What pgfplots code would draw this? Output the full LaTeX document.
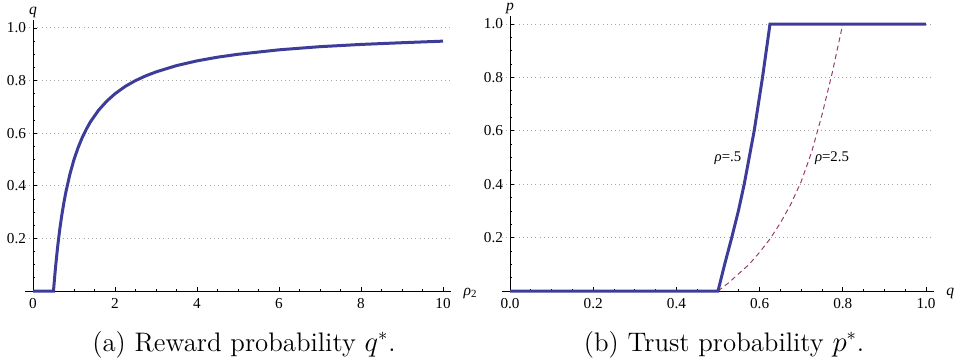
\documentclass[border=0pt]{standalone}
\usepackage{pgfplots}
\pgfplotsset{compat=1.18}
\usepackage{fontspec}
\newfontfamily\tfont{Liberation Serif}
\definecolor{mblue}{RGB}{61,61,153}
\definecolor{mpurple}{RGB}{153,61,113}
\begin{document}
\begin{tikzpicture}
\useasboundingbox (0,0) rectangle (477.5pt,180pt);
\pgfplotsset{
  mstyle/.style={
    scale only axis,
    axis lines=middle,
    axis line style={-, line width=0.5pt, black},
    anchor=south west,
    tick align=inside,
    hide obscured x ticks=false,
    major tick length=2.2pt,
    minor tick length=1.2pt,
    tick style={black, line width=0.4pt},
    ymin=0, ymax=1.03,
    ytick={0.2,0.4,0.6,0.8,1.0},
    yticklabels={0.2,0.4,0.6,0.8,1.0},
    minor ytick={0.05,0.1,0.15,0.25,0.3,0.35,0.45,0.5,0.55,0.65,0.7,0.75,0.85,0.9,0.95},
    ymajorgrids,
    grid style={gray!70, line width=0.5pt, dash pattern=on 0.5pt off 1.6pt},
    ticklabel style={font=\tfont\fontsize{7.6}{9}\selectfont},
    label style={font=\tfont\itshape\fontsize{7.8}{9}\selectfont},
    xlabel style={at={(axis description cs:1,0)}, anchor=base west, inner sep=0pt, xshift=6pt, yshift=-2pt},
    ylabel style={at={(axis description cs:0.0192,1)}, anchor=base, inner sep=0pt, yshift=3pt},
    clip=false,
  }
}
% Left panel
\begin{axis}[mstyle,
  at={(12.4pt,34.5pt)},
  width=213.2pt, height=135.45pt,
  xmin=-0.2, xmax=10.2,
  xtick={0,2,4,6,8,10},
  xticklabels={0,2,4,6,8,10},
  minor xtick={0.5,1,1.5,2.5,3,3.5,4.5,5,5.5,6.5,7,7.5,8.5,9,9.5},
  xlabel={ρ\textsubscript{\upshape 2}},
  ylabel={q},
]
\addplot[mblue, line width=1.5pt] coordinates {
 (0,0) (0.5,0) (0.51,0.02) (0.52,0.038) (0.55,0.091) (0.6,0.167) (0.65,0.231) (0.7,0.286)
 (0.75,0.333) (0.8,0.375) (0.9,0.444) (1,0.5) (1.1,0.545) (1.2,0.583) (1.3,0.615)
 (1.4,0.643) (1.6,0.6875) (1.8,0.722) (2,0.75) (2.25,0.778) (2.5,0.8) (2.75,0.818)
 (3,0.833) (3.5,0.857) (4,0.875) (4.5,0.889) (5,0.9) (6,0.917) (7,0.929) (8,0.9375)
 (9,0.944) (10,0.95)
};
\end{axis}
% Right panel
\begin{axis}[mstyle,
  at={(250.85pt,34.5pt)},
  width=216.1pt, height=137.5pt,
  xmin=-0.02, xmax=1.019,
  xtick={0,0.2,0.4,0.6,0.8,1.0},
  xticklabels={0.0,0.2,0.4,0.6,0.8,1.0},
  minor xtick={0.05,0.1,0.15,0.25,0.3,0.35,0.45,0.5,0.55,0.65,0.7,0.75,0.85,0.9,0.95},
  xlabel={q},
  ylabel={p},
]
\addplot[mpurple, line width=0.5pt, dash pattern=on 2.5pt off 1.8pt] coordinates {
 (0.5,0) (0.525,0.03) (0.55,0.065) (0.575,0.1) (0.6,0.145) (0.625,0.195) (0.65,0.255)
 (0.675,0.325) (0.7,0.41) (0.725,0.52) (0.75,0.66) (0.775,0.82) (0.8,1.0)
};
\addplot[mblue, line width=1.5pt] coordinates {
 (0,0) (0.5,0) (0.516,0.1) (0.533,0.2) (0.549,0.3) (0.563,0.4) (0.575,0.5) (0.587,0.6)
 (0.597,0.7) (0.607,0.8) (0.616,0.9) (0.625,1) (1,1)
};
\node[font=\tfont\fontsize{7.4}{9}\selectfont, inner sep=0pt] at (axis cs:0.524,0.498) {{\itshape ρ}=.5};
\node[font=\tfont\fontsize{7.4}{9}\selectfont, inner sep=0pt] at (axis cs:0.774,0.498) {{\itshape ρ}=2.5};
\end{axis}
\node[anchor=base, font=\fontsize{13.4}{16}\selectfont, inner sep=0pt] at (122pt,4.5pt) {(a) Reward probability $q^{*}$.};
\node[anchor=base, font=\fontsize{13.4}{16}\selectfont, inner sep=0pt] at (362pt,4.5pt) {(b) Trust probability $p^{*}$.};
\end{tikzpicture}
\end{document}
